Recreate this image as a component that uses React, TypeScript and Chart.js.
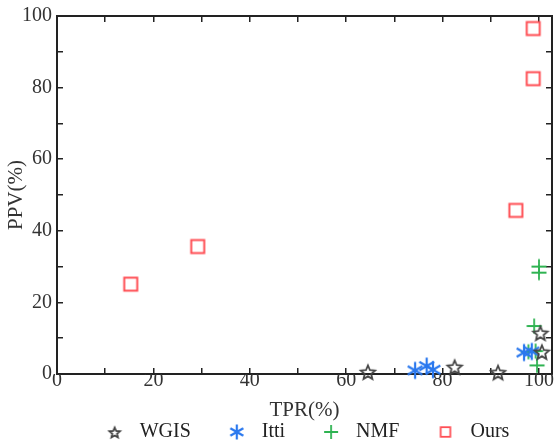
import React, { useEffect, useRef } from "react";
import { Chart, registerables } from "chart.js";

Chart.register(...registerables);

const SERIES_NAMES = ["WGIS", "Itti", "NMF", "Ours"];

const WGIS_TPR = [64.5, 82.5, 91.5, 100.3, 100.6];
const WGIS_PPV = [0.6, 2.0, 0.5, 11.5, 6.2];

const ITTI_TPR = [74.3, 76.7, 78.0, 96.9, 98.5];
const ITTI_PPV = [1.0, 2.2, 1.2, 6.0, 6.3];

const NMF_TPR = [100.0, 100.0, 99.0, 97.8, 99.3, 99.6];
const NMF_PPV = [30.0, 28.3, 13.4, 6.2, 6.4, 2.4];

const OURS_TPR = [15.3, 29.2, 95.2, 98.8, 98.8];
const OURS_PPV = [25.1, 35.6, 45.7, 82.5, 96.5];

const X_TICKS = [0, 10, 20, 30, 40, 50, 60, 70, 80, 90, 100];
const Y_TICKS = [0, 10, 20, 30, 40, 50, 60, 70, 80, 90, 100];
const X_MIN = 0;
const X_MAX = 102.7;
const Y_MIN = 0;
const Y_MAX = 100;

const SERIF = "'Liberation Serif', 'Times New Roman', serif";
const FRAME = "#222";

function makeMarker(size: number, draw: (ctx: CanvasRenderingContext2D, c: number) => void) {
  const cv = document.createElement("canvas");
  cv.width = size;
  cv.height = size;
  const ctx = cv.getContext("2d")!;
  draw(ctx, size / 2);
  return cv;
}

function starMarker(size: number, outer: number, inner: number, lw: number) {
  return makeMarker(size, (ctx, c) => {
    ctx.strokeStyle = "#444";
    ctx.lineWidth = lw;
    ctx.lineJoin = "miter";
    ctx.beginPath();
    for (let i = 0; i < 10; i++) {
      const r = i % 2 === 0 ? outer : inner;
      const a = -Math.PI / 2 + (i * Math.PI) / 5;
      const px = c + r * Math.cos(a);
      const py = c + 1 + r * Math.sin(a);
      if (i === 0) ctx.moveTo(px, py);
      else ctx.lineTo(px, py);
    }
    ctx.closePath();
    ctx.stroke();
  });
}

function asteriskMarker(size: number, r: number, lw: number) {
  return makeMarker(size, (ctx, c) => {
    ctx.strokeStyle = "#2a78ee";
    ctx.lineWidth = lw;
    ctx.beginPath();
    for (const deg of [90, 30, 150]) {
      const a = (deg * Math.PI) / 180;
      ctx.moveTo(c - r * Math.cos(a), c - r * Math.sin(a));
      ctx.lineTo(c + r * Math.cos(a), c + r * Math.sin(a));
    }
    ctx.stroke();
  });
}

function plusMarker(size: number, r: number, lw: number) {
  return makeMarker(size, (ctx, c) => {
    ctx.strokeStyle = "#2fb352";
    ctx.lineWidth = lw;
    ctx.beginPath();
    ctx.moveTo(c - r, c);
    ctx.lineTo(c + r, c);
    ctx.moveTo(c, c - r);
    ctx.lineTo(c, c + r);
    ctx.stroke();
  });
}

function squareMarker(size: number, half: number, lw: number) {
  return makeMarker(size, (ctx, c) => {
    ctx.strokeStyle = "#ff4f55";
    ctx.lineWidth = lw;
    ctx.strokeRect(c - half, c - half, half * 2, half * 2);
  });
}

function toPoints(xs: number[], ys: number[]) {
  return xs.map((x, i) => ({ x, y: ys[i] }));
}

function zeroPadding(s: any) {
  s.paddingTop = 0;
  s.paddingBottom = 0;
  s.paddingLeft = 0;
  s.paddingRight = 0;
}

export default function App() {
  const ref = useRef<HTMLCanvasElement | null>(null);

  useEffect(() => {
    if (!ref.current) return;
    const markers = [
      starMarker(22, 7.5, 3.4, 1.8),
      asteriskMarker(22, 8.5, 2.2),
      plusMarker(22, 7.5, 1.8),
      squareMarker(22, 6.5, 2),
    ];
    const legendMarkers = [
      starMarker(16, 5.5, 2.5, 1.8),
      asteriskMarker(20, 7.5, 2.2),
      plusMarker(18, 7, 1.8),
      squareMarker(16, 4.8, 1.8),
    ];
    const seriesData = [
      toPoints(WGIS_TPR, WGIS_PPV),
      toPoints(ITTI_TPR, ITTI_PPV),
      toPoints(NMF_TPR, NMF_PPV),
      toPoints(OURS_TPR, OURS_PPV),
    ];

    const tickGrid = {
      display: true,
      drawOnChartArea: false,
      drawTicks: true,
      tickLength: -6,
      color: FRAME,
      lineWidth: 1.5,
    };
    const border = { display: true, color: FRAME, width: 2 };

    const chart = new Chart(ref.current, {
      type: "scatter",
      data: {
        datasets: SERIES_NAMES.map((name, i) => ({
          label: name,
          data: seriesData[i],
          pointStyle: markers[i] as any,
          pointRadius: 0.5,
          pointBorderWidth: 0,
          showLine: false,
          clip: false as any,
        })),
      },
      options: {
        animation: false,
        responsive: false,
        layout: { padding: 0 },
        plugins: {
          tooltip: { enabled: false },
          legend: {
            position: "bottom",
            fullSize: false,
            labels: {
              usePointStyle: true,
              pointStyleWidth: 30,
              padding: 31,
              color: "#222",
              font: { family: SERIF, size: 20 },
              generateLabels: (ch: any) => {
                const items = Chart.defaults.plugins.legend.labels.generateLabels(ch);
                return items.map((it: any, i: number) => ({ ...it, pointStyle: legendMarkers[i] }));
              },
            },
          },
        },
        scales: {
          x: {
            type: "linear",
            position: "bottom",
            min: X_MIN,
            max: X_MAX,
            afterBuildTicks: (s: any) => {
              s.ticks = X_TICKS.map((v) => ({ value: v }));
            },
            afterFit: (s: any) => {
              s.height = 17;
              zeroPadding(s);
            },
            grid: tickGrid,
            border,
            ticks: {
              autoSkip: false,
              maxRotation: 0,
              padding: 1,
              color: "#333",
              font: { family: SERIF, size: 20 },
              callback: (v: any) => (Number(v) % 20 === 0 ? String(v) : ""),
            },
            title: {
              display: true,
              text: "TPR(%)",
              color: "#333",
              font: { family: SERIF, size: 21 },
              padding: { top: 0, bottom: -31.6 },
            },
          },
          x2: {
            type: "linear",
            position: "top",
            min: X_MIN,
            max: X_MAX,
            afterBuildTicks: (s: any) => {
              s.ticks = X_TICKS.map((v) => ({ value: v }));
            },
            afterFit: (s: any) => {
              s.height = 16;
              zeroPadding(s);
            },
            grid: tickGrid,
            border,
            ticks: { display: false },
          },
          y: {
            type: "linear",
            position: "left",
            min: Y_MIN,
            max: Y_MAX,
            afterBuildTicks: (s: any) => {
              s.ticks = Y_TICKS.map((v) => ({ value: v }));
            },
            afterFit: (s: any) => {
              s.width = 57;
              zeroPadding(s);
            },
            grid: tickGrid,
            border,
            ticks: {
              autoSkip: false,
              padding: 11,
              color: "#333",
              font: { family: SERIF, size: 20 },
              callback: (v: any) => (Number(v) % 20 === 0 ? String(v) : ""),
            },
            title: {
              display: true,
              text: "PPV(%)",
              color: "#333",
              font: { family: SERIF, size: 21 },
              padding: { top: 4, bottom: 0 },
            },
          },
          y2: {
            type: "linear",
            position: "right",
            min: Y_MIN,
            max: Y_MAX,
            afterBuildTicks: (s: any) => {
              s.ticks = Y_TICKS.map((v) => ({ value: v }));
            },
            afterFit: (s: any) => {
              s.width = 1;
              zeroPadding(s);
            },
            grid: tickGrid,
            border,
            ticks: { display: false },
          },
        },
      } as any,
    });
    return () => chart.destroy();
  }, []);

  return (
    <div style={{ position: "absolute", left: 0, top: 0, width: 556, height: 445, overflow: "hidden", background: "#fff" }}>
      <canvas ref={ref} width={556} height={452} style={{ display: "block" }} />
    </div>
  );
}
